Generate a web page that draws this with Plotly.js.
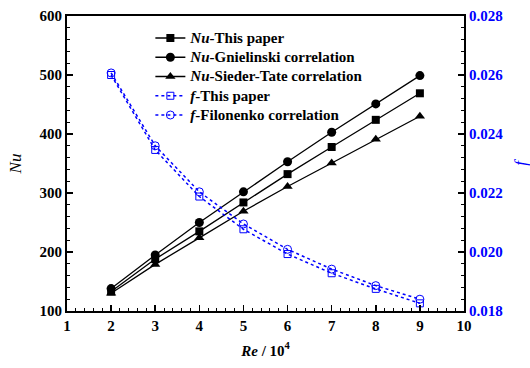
<!DOCTYPE html>
<html><head><meta charset="utf-8">
<script src="https://cdn.plot.ly/plotly-3.0.1.min.js"></script>
<style>body{margin:0;padding:0;background:#fff}#c{width:530px;height:368px}</style>
</head><body><div id="c"></div>
<script>
const re = [2, 3, 4, 5, 6, 7, 8, 9];
const nuThisPaper = [133, 188, 235, 284, 332, 378, 424, 469];
const nuGnielinski = [138, 195, 250, 302, 353, 403, 451, 499];
const nuSiederTate = [130, 179, 224, 269, 311, 351, 391, 430];
const fThisPaper = [0.02600, 0.02346, 0.02188, 0.02077, 0.01993, 0.01928, 0.01875, 0.01826];
const fFilonenko = [0.02607, 0.02360, 0.02204, 0.02095, 0.02009, 0.01942, 0.01886, 0.01840];
const names = ['<i>Nu</i>-This paper', '<i>Nu</i>-Gnielinski correlation', '<i>Nu</i>-Sieder-Tate correlation', '<i>f</i>-This paper', '<i>f</i>-Filonenko correlation'];

const black = '#000', blue = '#0000ff';
const serif = 'Liberation Serif';
const big = s => '<span style="font-size:15px">' + s + '</span>';
const traces = [
  {x: re, y: nuThisPaper, name: big(names[0]), mode: 'lines+markers', line: {color: black, width: 1.3}, marker: {symbol: 'square', size: 8, color: black}},
  {x: re, y: nuGnielinski, name: big(names[1]), mode: 'lines+markers', line: {color: black, width: 1.3}, marker: {symbol: 'circle', size: 9, color: black}},
  {x: re, y: nuSiederTate, name: big(names[2]), mode: 'lines+markers', line: {color: black, width: 1.3}, marker: {symbol: 'triangle-up', size: 9, color: black}},
  {x: re, y: fThisPaper, name: big(names[3]), yaxis: 'y2', mode: 'lines+markers', line: {color: blue, width: 1.5, dash: 'dot'}, marker: {symbol: 'square-open', size: 7, color: blue, line: {width: 1}}},
  {x: re, y: fFilonenko, name: big(names[4]), yaxis: 'y2', mode: 'lines+markers', line: {color: blue, width: 1.5, dash: 'dot'}, marker: {symbol: 'circle-open', size: 8, color: blue, line: {width: 1}}}
];

const tickfont = {family: serif, size: 15, color: black, weight: 700};
const layout = {
  width: 530, height: 368,
  margin: {l: 67, r: 66, t: 16, b: 57},
  paper_bgcolor: '#fff', plot_bgcolor: '#fff',
  font: {family: serif, size: 14, color: black, weight: 700},
  showlegend: true,
  legend: {x: 0.21, y: 0.975, xanchor: 'left', yanchor: 'top', bgcolor: 'rgba(0,0,0,0)', borderwidth: 0,
           font: {family: serif, size: 12.5, color: black, weight: 700}, tracegroupgap: 0, itemwidth: 30},
  xaxis: {range: [1, 10], dtick: 1, tick0: 1, showgrid: false, zeroline: false,
          showline: true, linecolor: black, linewidth: 2, mirror: true,
          ticks: 'inside', ticklen: 6, tickwidth: 1.5, tickcolor: black,
          minor: {dtick: 0.2, tick0: 1, ticks: 'inside', ticklen: 3, tickwidth: 1, tickcolor: black, showgrid: false},
          tickfont: tickfont,
          title: {text: '<i>Re</i> / 10<sup>4</sup>', font: {family: serif, size: 15, color: black, weight: 700}, standoff: 12}},
  yaxis: {range: [100, 600], dtick: 100, showgrid: false, zeroline: false,
          showline: true, linecolor: black, linewidth: 2,
          ticks: 'inside', ticklen: 6, tickwidth: 1.5, tickcolor: black,
          minor: {dtick: 20, tick0: 100, ticks: 'inside', ticklen: 3, tickwidth: 1, tickcolor: black, showgrid: false},
          tickfont: tickfont,
          title: {text: '<i>Nu</i>', font: {family: serif, size: 17, color: black, weight: 400}, standoff: 14}},
  yaxis2: {overlaying: 'y', side: 'right', range: [0.018, 0.028], dtick: 0.002, tickformat: '.3f',
           showgrid: false, zeroline: false, showline: true, linecolor: black, linewidth: 2,
           ticks: 'inside', ticklen: 6, tickwidth: 1.5, tickcolor: black,
           minor: {dtick: 0.0004, tick0: 0.018, ticks: 'inside', ticklen: 3, tickwidth: 1, tickcolor: black, showgrid: false},
           tickfont: {family: serif, size: 15, color: blue, weight: 700},
           title: {text: '<i>f</i>', font: {family: serif, size: 17, color: blue, weight: 400}, standoff: 16}}
};
Plotly.newPlot('c', traces, layout, {displayModeBar: false, staticPlot: true});
</script>
</body></html>
